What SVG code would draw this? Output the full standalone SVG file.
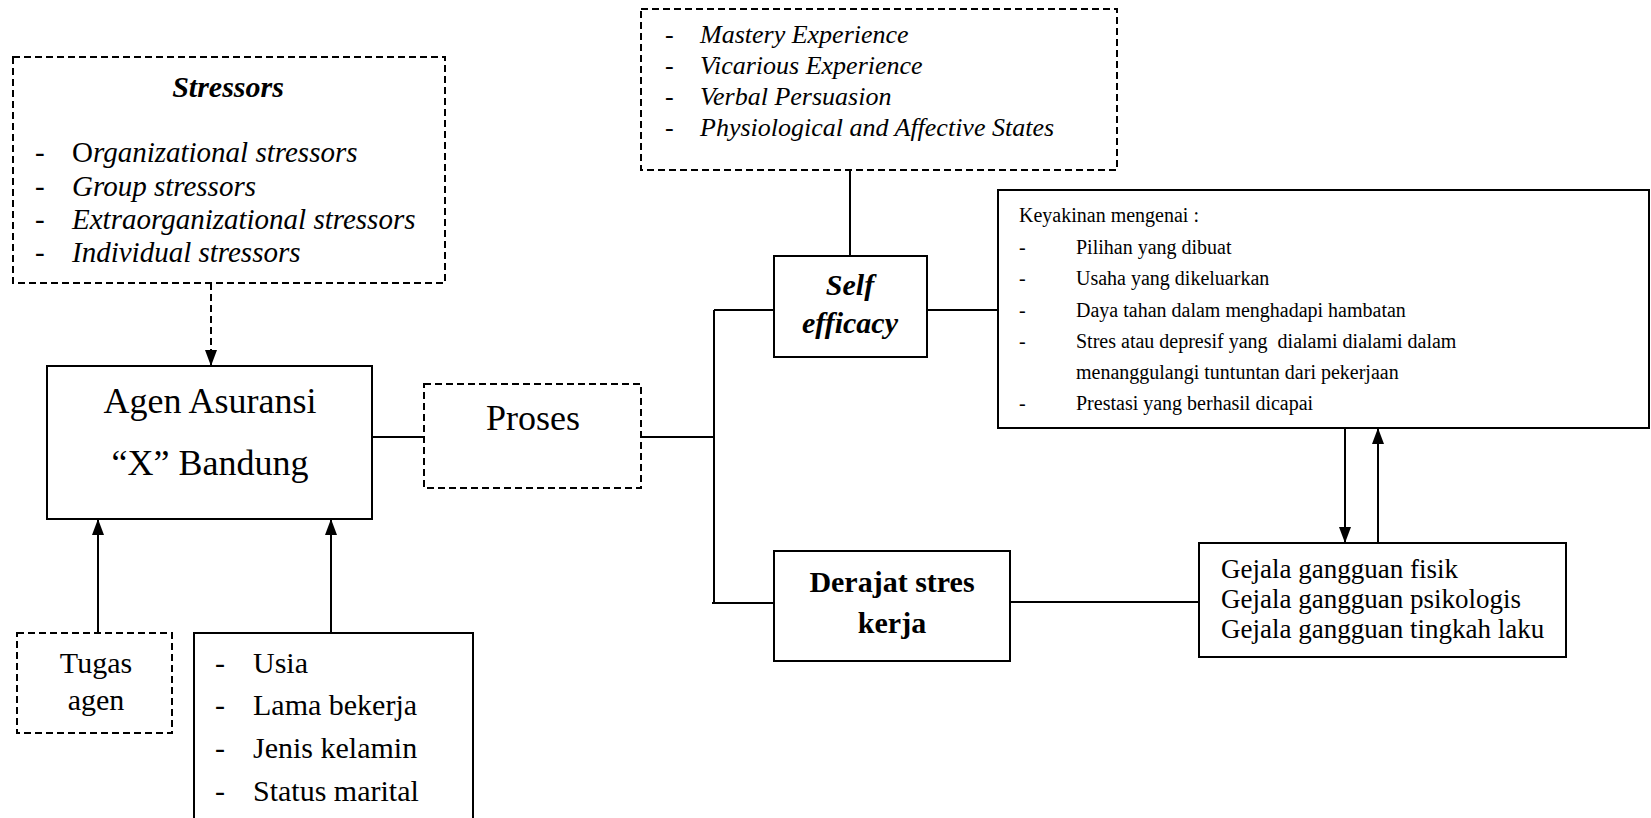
<svg xmlns="http://www.w3.org/2000/svg" width="1651" height="818" viewBox="0 0 1651 818" font-family="Liberation Serif">
<style>
.box{fill:#fff;stroke:#000;stroke-width:2}
.dbox{fill:#fff;stroke:#000;stroke-width:2;stroke-dasharray:7 4}
.ln{fill:none;stroke:#000;stroke-width:2}
.dln{fill:none;stroke:#000;stroke-width:2;stroke-dasharray:7 4}
</style>
<defs>
<marker id="arr" viewBox="0 0 16 12" refX="16" refY="6" markerWidth="16" markerHeight="12" orient="auto" markerUnits="userSpaceOnUse">
<path d="M0,0 L16,6 L0,12 z" fill="#000"/>
</marker>
</defs>
<rect width="1651" height="818" fill="#fff"/>
<g id="connectors">
<path class="dln" d="M211,283 V366" marker-end="url(#arr)"/>
<path class="ln" d="M98,633 V519" marker-end="url(#arr)"/>
<path class="ln" d="M331,633 V519" marker-end="url(#arr)"/>
<path class="ln" d="M372,437 H424"/>
<path class="ln" d="M641,437 H714"/>
<path class="ln" d="M714,310 V603"/>
<path class="ln" d="M714,310 H774"/>
<path class="ln" d="M712,603 H774"/>
<path class="ln" d="M850,170 V256"/>
<path class="ln" d="M927,310 H998"/>
<path class="ln" d="M1010,602 H1199"/>
<path class="ln" d="M1345,428 V543" marker-end="url(#arr)"/>
<path class="ln" d="M1378,547 V428" marker-end="url(#arr)"/>
</g>
<g id="stressors">
<rect class="dbox" x="13" y="57" width="432" height="226"/>
<text x="228" y="97" text-anchor="middle" font-family="Liberation Serif" font-style="italic" font-size="30" font-weight="bold">Stressors</text>
<text x="35" y="162" font-family="Liberation Serif" font-size="29">-</text>
<text x="72" y="162" font-family="Liberation Serif" font-size="29">O<tspan font-style="italic">rganizational stressors</tspan></text>
<text x="35" y="196" font-family="Liberation Serif" font-size="29">-</text>
<text x="72" y="196" font-family="Liberation Serif" font-size="29" font-style="italic">Group stressors</text>
<text x="35" y="229" font-family="Liberation Serif" font-size="29">-</text>
<text x="72" y="229" font-family="Liberation Serif" font-size="29" font-style="italic">Extraorganizational stressors</text>
<text x="35" y="262" font-family="Liberation Serif" font-size="29">-</text>
<text x="72" y="262" font-family="Liberation Serif" font-size="29" font-style="italic">Individual stressors</text>
</g>
<g id="sources">
<rect class="dbox" x="641" y="9" width="476" height="161"/>
<text x="665" y="43" font-family="Liberation Serif" font-size="26">-</text>
<text x="700" y="43" font-family="Liberation Serif" font-size="26" font-style="italic">Mastery Experience</text>
<text x="665" y="74" font-family="Liberation Serif" font-size="26">-</text>
<text x="700" y="74" font-family="Liberation Serif" font-size="26" font-style="italic">Vicarious Experience</text>
<text x="665" y="105" font-family="Liberation Serif" font-size="26">-</text>
<text x="700" y="105" font-family="Liberation Serif" font-size="26" font-style="italic">Verbal Persuasion</text>
<text x="665" y="136" font-family="Liberation Serif" font-size="26">-</text>
<text x="700" y="136" font-family="Liberation Serif" font-size="26" font-style="italic">Physiological and Affective States</text>
</g>
<g id="agen">
<rect class="box" x="47" y="366" width="325" height="153"/>
<text x="210" y="413" text-anchor="middle" font-family="Liberation Serif" font-size="36">Agen Asuransi</text>
<text x="210" y="475" text-anchor="middle" font-family="Liberation Serif" font-size="36">&#8220;X&#8221; Bandung</text>
</g>
<g id="proses">
<rect class="dbox" x="424" y="384" width="217" height="104"/>
<text x="533" y="430" text-anchor="middle" font-family="Liberation Serif" font-size="36">Proses</text>
</g>
<g id="selfefficacy">
<rect class="box" x="774" y="256" width="153" height="101"/>
<text x="850" y="295" text-anchor="middle" font-family="Liberation Serif" font-style="italic" font-size="30" font-weight="bold">Self</text>
<text x="850" y="333" text-anchor="middle" font-family="Liberation Serif" font-style="italic" font-size="30" font-weight="bold">efficacy</text>
</g>
<g id="keyakinan">
<rect class="box" x="998" y="190" width="651" height="238"/>
<text x="1019" y="222" font-family="Liberation Serif" font-size="20">Keyakinan mengenai :</text>
<text x="1019" y="254" font-family="Liberation Serif" font-size="20">-</text>
<text x="1076" y="254" font-family="Liberation Serif" font-size="20">Pilihan yang dibuat</text>
<text x="1019" y="285" font-family="Liberation Serif" font-size="20">-</text>
<text x="1076" y="285" font-family="Liberation Serif" font-size="20">Usaha yang dikeluarkan</text>
<text x="1019" y="317" font-family="Liberation Serif" font-size="20">-</text>
<text x="1076" y="317" font-family="Liberation Serif" font-size="20">Daya tahan dalam menghadapi hambatan</text>
<text x="1019" y="348" font-family="Liberation Serif" font-size="20">-</text>
<text x="1076" y="348" font-family="Liberation Serif" font-size="20">Stres atau depresif yang&#160; dialami dialami dalam</text>
<text x="1076" y="379" font-family="Liberation Serif" font-size="20">menanggulangi tuntuntan dari pekerjaan</text>
<text x="1019" y="410" font-family="Liberation Serif" font-size="20">-</text>
<text x="1076" y="410" font-family="Liberation Serif" font-size="20">Prestasi yang berhasil dicapai</text>
</g>
<g id="derajat">
<rect class="box" x="774" y="551" width="236" height="110"/>
<text x="892" y="592" text-anchor="middle" font-family="Liberation Serif" font-size="30" font-weight="bold">Derajat stres</text>
<text x="892" y="633" text-anchor="middle" font-family="Liberation Serif" font-size="30" font-weight="bold">kerja</text>
</g>
<g id="gejala">
<rect class="box" x="1199" y="543" width="367" height="114"/>
<text x="1221" y="578" font-family="Liberation Serif" font-size="27">Gejala gangguan fisik</text>
<text x="1221" y="608" font-family="Liberation Serif" font-size="27">Gejala gangguan psikologis</text>
<text x="1221" y="638" font-family="Liberation Serif" font-size="27">Gejala gangguan tingkah laku</text>
</g>
<g id="tugas">
<rect class="dbox" x="17" y="633" width="155" height="100"/>
<text x="96" y="673" text-anchor="middle" font-family="Liberation Serif" font-size="30">Tugas</text>
<text x="96" y="710" text-anchor="middle" font-family="Liberation Serif" font-size="30">agen</text>
</g>
<g id="demografi">
<rect class="box" x="194" y="633" width="279" height="200"/>
<text x="215" y="673" font-family="Liberation Serif" font-size="30">-</text>
<text x="253" y="673" font-family="Liberation Serif" font-size="30">Usia</text>
<text x="215" y="715" font-family="Liberation Serif" font-size="30">-</text>
<text x="253" y="715" font-family="Liberation Serif" font-size="30">Lama bekerja</text>
<text x="215" y="758" font-family="Liberation Serif" font-size="30">-</text>
<text x="253" y="758" font-family="Liberation Serif" font-size="30">Jenis kelamin</text>
<text x="215" y="801" font-family="Liberation Serif" font-size="30">-</text>
<text x="253" y="801" font-family="Liberation Serif" font-size="30">Status marital</text>
</g>
</svg>
